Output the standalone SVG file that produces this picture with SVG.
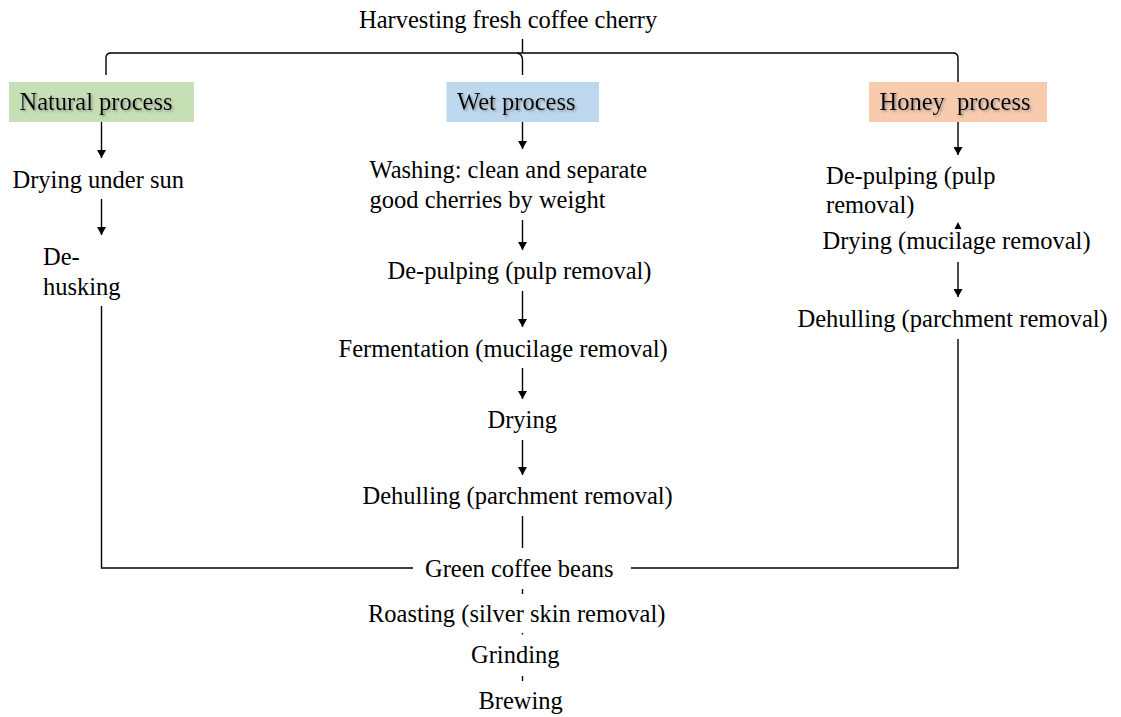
<svg xmlns="http://www.w3.org/2000/svg" width="1121" height="717" viewBox="0 0 1121 717">
<style>
text{font-family:"Liberation Serif","Times New Roman",serif;font-size:24.5px;fill:#000}
.c{fill:none;stroke:#000;stroke-width:1.4}
.s{filter:url(#sh)}
</style>
<defs>
<marker id="ah" viewBox="0 0 8 9" refX="8" refY="4.5" markerWidth="8" markerHeight="9" markerUnits="userSpaceOnUse" orient="auto">
<path d="M0,0 L8,4.5 L0,9 Z" fill="#000"/>
</marker>
<filter id="sh" x="-10%" y="-30%" width="120%" height="160%">
<feDropShadow dx="1.5" dy="1.5" stdDeviation="1.2" flood-color="#7f7f7f" flood-opacity="0.75"/>
</filter>
</defs>
<rect width="1121" height="717" fill="#fff"/>
<g id="connectors">
<path class="c" d="M522.5,39 V53"/>
<path class="c" d="M106,75 V58 Q106,53 111,53 H953 Q958,53 958,58 V82"/>
<path class="c" d="M517,53 Q522.5,54 522.5,60 V75"/>
<path class="c" d="M101.5,122 V158" marker-end="url(#ah)"/>
<path class="c" d="M101.5,199 V235" marker-end="url(#ah)"/>
<path class="c" d="M101.5,306 V568 H413"/>
<path class="c" d="M522.5,122 V149" marker-end="url(#ah)"/>
<path class="c" d="M522.5,220 V250" marker-end="url(#ah)"/>
<path class="c" d="M522.5,291 V327" marker-end="url(#ah)"/>
<path class="c" d="M522.5,368 V399" marker-end="url(#ah)"/>
<path class="c" d="M522.5,440 V475" marker-end="url(#ah)"/>
<path class="c" d="M522.5,516 V548"/>
<path class="c" d="M522.5,589 V594"/>
<path class="c" d="M522.5,633 V634.5"/>
<path class="c" d="M522.5,676 V681"/>
<path class="c" d="M958,122 V155" marker-end="url(#ah)"/>
<path d="M954.5,229 L958,222 L961.5,229 Z" fill="#000"/>
<path class="c" d="M958,262 V297" marker-end="url(#ah)"/>
<path class="c" d="M958,339 V568 H631"/>
</g>
<g id="harvest"><text x="359" y="28">Harvesting fresh coffee cherry</text></g>
<g id="natural">
<rect x="9" y="82" width="185" height="40" fill="#c5e0b4"/>
<text class="s" x="19.5" y="110">Natural process</text>
</g>
<g id="wet">
<rect x="446.5" y="82" width="152.5" height="40" fill="#bdd7ee"/>
<text class="s" x="457" y="110">Wet process</text>
</g>
<g id="honey">
<rect x="869" y="82" width="178" height="40" fill="#f8cbad"/>
<text class="s" x="879.5" y="110" xml:space="preserve">Honey  process</text>
</g>
<g id="n-drying"><text x="12.5" y="188">Drying under sun</text></g>
<g id="n-dehusking"><text x="43" y="265">De-</text><text x="43" y="295">husking</text></g>
<g id="w-washing"><text x="369.5" y="178">Washing: clean and separate</text><text x="369.5" y="208">good cherries by weight</text></g>
<g id="w-depulping"><text x="387.5" y="279">De-pulping (pulp removal)</text></g>
<g id="w-fermentation"><text x="338.5" y="357">Fermentation (mucilage removal)</text></g>
<g id="w-drying"><text x="487.5" y="428">Drying</text></g>
<g id="w-dehulling"><text x="362.5" y="504">Dehulling (parchment removal)</text></g>
<g id="green"><text x="425" y="577">Green coffee beans</text></g>
<g id="roasting"><text x="368" y="622">Roasting (silver skin removal)</text></g>
<g id="grinding"><text x="471" y="663">Grinding</text></g>
<g id="brewing"><text x="478.5" y="709">Brewing</text></g>
<g id="h-depulping"><text x="826" y="184">De-pulping (pulp</text><text x="826" y="213">removal)</text></g>
<g id="h-drying"><text x="822.5" y="249">Drying (mucilage removal)</text></g>
<g id="h-dehulling"><text x="797.5" y="327">Dehulling (parchment removal)</text></g>
</svg>
